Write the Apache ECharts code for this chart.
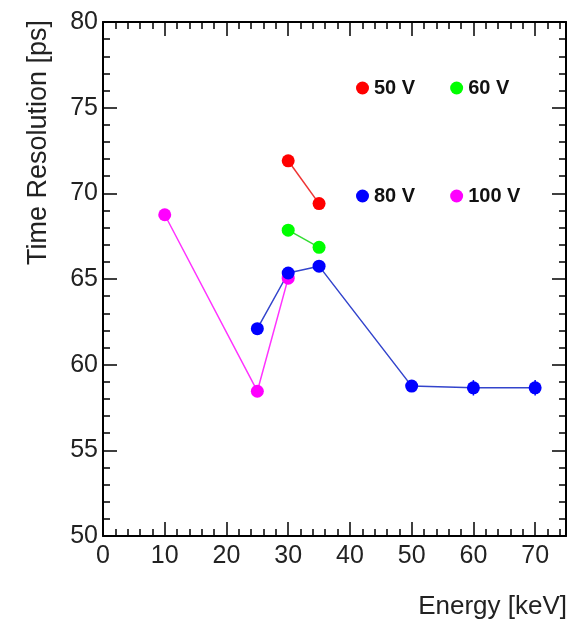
<!DOCTYPE html>
<html>
<head>
<meta charset="utf-8">
<script src="https://cdn.jsdelivr.net/npm/echarts@6/dist/echarts.min.js"></script>
<style>html,body{margin:0;padding:0;background:#fff;}#c{width:570px;height:622px;}</style>
</head>
<body>
<div id="c"></div>
<script>
// Data
const energy50 = [30, 35];
const res50 = [71.9, 69.4];
const energy60 = [30, 35];
const res60 = [67.85, 66.85];
const energy80 = [25, 30, 35, 50, 60, 70];
const res80 = [62.1, 65.35, 65.75, 58.75, 58.65, 58.65];
const err80 = [0.2, 0.25, 0.25, 0.3, 0.45, 0.45];
const energy100 = [10, 25, 30];
const res100 = [68.75, 58.45, 65.05];
const xTicks = [0, 10, 20, 30, 40, 50, 60, 70];
const yTicks = [50, 55, 60, 65, 70, 75, 80];

const pairs = (xs, ys) => xs.map((x, i) => [x, ys[i]]);
const FONT = '"Liberation Sans", Arial, Helvetica, sans-serif';

const chart = echarts.init(document.getElementById('c'), null, {renderer: 'canvas'});

const axisCommon = {
  axisLine: {show: true, onZero: false, lineStyle: {color: '#000', width: 2}},
  axisTick: {show: true, inside: true, length: 14, lineStyle: {color: '#000', width: 1.5}},
  minorTick: {show: true, splitNumber: 5, length: 7, lineStyle: {color: '#000', width: 1.5}},
  splitLine: {show: false},
  minorSplitLine: {show: false}
};

function lineSeries(name, color, lineColor, data) {
  return {
    name: name, type: 'line', xAxisIndex: 0, yAxisIndex: 0,
    data: data, symbol: 'circle', symbolSize: 13,
    itemStyle: {color: color},
    lineStyle: {color: lineColor, width: 1.5},
    emphasis: {disabled: true}, z: 3
  };
}

const legendText = {fontFamily: FONT, fontSize: 20, fontWeight: 'bold', color: '#111'};

chart.setOption({
  animation: false,
  backgroundColor: '#fff',
  grid: {left: 103, right: 4, top: 22, bottom: 86, containLabel: false},
  xAxis: [
    Object.assign({type: 'value', position: 'bottom', min: 0, max: 75, interval: 10,
      axisLabel: {show: true, fontFamily: FONT, fontSize: 25, color: '#222', margin: 8,
        formatter: v => xTicks.includes(v) ? String(v) : ''}}, axisCommon),
    Object.assign({type: 'value', position: 'top', min: 0, max: 75, interval: 10,
      axisLabel: {show: false}}, axisCommon)
  ],
  yAxis: [
    Object.assign({type: 'value', position: 'left', min: 50, max: 80, interval: 5,
      axisLabel: {show: true, fontFamily: FONT, fontSize: 25, color: '#222', margin: 5,
        formatter: v => yTicks.includes(v) ? String(v) : ''}}, axisCommon),
    Object.assign({type: 'value', position: 'right', min: 50, max: 80, interval: 5,
      axisLabel: {show: false}}, axisCommon)
  ],
  legend: [
    {data: ['50 V', '60 V'], left: 356, top: 78, padding: 0, orient: 'horizontal', itemGap: 35,
     icon: 'circle', itemWidth: 13, itemHeight: 13, itemStyle: {borderWidth: 0}, textStyle: legendText},
    {data: ['80 V', '100 V'], left: 356, top: 186, padding: 0, orient: 'horizontal', itemGap: 35,
     icon: 'circle', itemWidth: 13, itemHeight: 13, itemStyle: {borderWidth: 0}, textStyle: legendText}
  ],
  graphic: [
    {type: 'text', x: 39, y: 20, rotation: Math.PI / 2,
     style: {text: 'Time Resolution [ps]', fontFamily: FONT, fontSize: 27, fill: '#222',
             align: 'right', verticalAlign: 'middle'}},
    {type: 'text', x: 567, y: 607,
     style: {text: 'Energy [keV]', fontFamily: FONT, fontSize: 26, fill: '#222',
             align: 'right', verticalAlign: 'middle'}}
  ],
  series: [
    {
      name: 'err80', type: 'custom', xAxisIndex: 0, yAxisIndex: 0, z: 2,
      data: energy80.map((x, i) => [x, res80[i] - err80[i], res80[i] + err80[i]]),
      renderItem: function (params, api) {
        const lo = api.coord([api.value(0), api.value(1)]);
        const hi = api.coord([api.value(0), api.value(2)]);
        return {type: 'line', shape: {x1: lo[0], y1: lo[1], x2: hi[0], y2: hi[1]},
                style: {stroke: '#0000ff', lineWidth: 1.5}};
      },
      silent: true
    },
    lineSeries('100 V', '#ff00ff', '#ff33ff', pairs(energy100, res100)),
    lineSeries('80 V', '#0000ff', '#3344cc', pairs(energy80, res80)),
    lineSeries('60 V', '#00ff00', '#33dd33', pairs(energy60, res60)),
    lineSeries('50 V', '#ff0000', '#ee3333', pairs(energy50, res50))
  ]
});
</script>
</body>
</html>
